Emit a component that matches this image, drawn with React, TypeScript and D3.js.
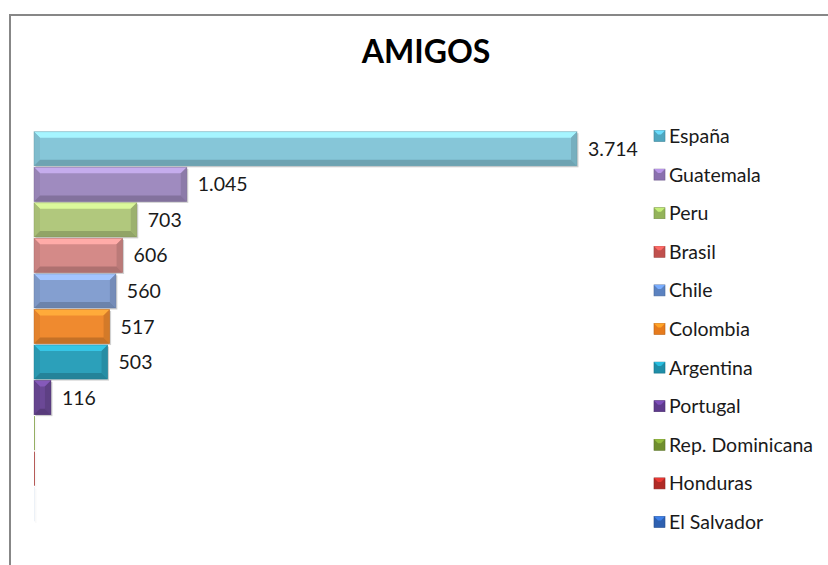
import React, { useEffect, useRef } from "react";
import * as d3 from "d3";

const countries = [
  "España",
  "Guatemala",
  "Peru",
  "Brasil",
  "Chile",
  "Colombia",
  "Argentina",
  "Portugal",
  "Rep. Dominicana",
  "Honduras",
  "El Salvador",
];
const values = [3714, 1045, 703, 606, 560, 517, 503, 116, 4, 3, 1];
const colors = [
  "#86c6d8",
  "#9f8bbf",
  "#b1c87d",
  "#d48a88",
  "#849fd0",
  "#ef8a2f",
  "#2ca0ba",
  "#6b4896",
  "#7b9a3c",
  "#a4332f",
  "#e8eef6",
];
const legendColors = [
  "#4fa6bf",
  "#8a70ae",
  "#93b35a",
  "#c0504d",
  "#5b82c0",
  "#e67b1d",
  "#1f8ea8",
  "#5e3a8c",
  "#6f8e2e",
  "#b02a26",
  "#2e60b0",
];
const title = "AMIGOS";

const fmt = (v: number) => d3.format(",")(v).replace(/,/g, ".");

const App = () => {
  const svgRef = useRef<SVGSVGElement>(null);

  useEffect(() => {
    const svg = d3.select(svgRef.current);
    svg.selectAll("*").remove();

    const w = 828;
    const h = 565;
    const font = "Lato, 'Open Sans', sans-serif";

    // chart frame (runs past the picture on right and bottom)
    svg
      .append("rect")
      .attr("x", 10)
      .attr("y", 15)
      .attr("width", w + 10)
      .attr("height", h + 10)
      .attr("fill", "#fff")
      .attr("stroke", "#878787")
      .attr("stroke-width", 2);

    svg
      .append("text")
      .attr("x", 426)
      .attr("y", 63)
      .attr("text-anchor", "middle")
      .attr("font-family", font)
      .attr("font-weight", "bold")
      .attr("font-size", 32)
      .attr("fill", "#000")
      .text(title);

    const data = countries.map((name, i) => ({ name, value: values[i], color: colors[i], legend: legendColors[i] }));

    const xScale = d3.scaleLinear().domain([0, 3714]).range([34, 577]);
    const yScale = d3
      .scaleBand()
      .domain(countries)
      .range([131, 522])
      .paddingInner(0.04)
      .paddingOuter(0.02);

    const bars = svg.append("g").attr("class", "bars");

    data.forEach((d) => {
      const x0 = xScale(0);
      const x1 = xScale(d.value);
      const y0 = yScale(d.name)!;
      const bh = yScale.bandwidth();
      const y1 = y0 + bh;
      const bw = x1 - x0;
      const b = Math.max(0, Math.min(6, bw / 2, bh / 2));
      const c = d3.color(d.color)!;
      const g = bars.append("g");

      // shadow
      g.append("rect")
        .attr("x", x0 + 1.5)
        .attr("y", y0 + 1.5)
        .attr("width", Math.max(bw, 0.8))
        .attr("height", bh)
        .attr("fill", "#000")
        .attr("opacity", d.value > 10 ? 0.18 : 0.05);

      g.append("rect")
        .attr("x", x0)
        .attr("y", y0)
        .attr("width", Math.max(bw, 0.8))
        .attr("height", bh)
        .attr("fill", d.color);

      const poly = (pts: number[][], fill: string) =>
        g.append("polygon").attr("points", pts.map((p) => p.join(",")).join(" ")).attr("fill", fill);

      if (b > 0.5) {
        poly([[x0, y0], [x1, y0], [x1 - b, y0 + b], [x0 + b, y0 + b]], c.brighter(0.6).formatHex());
        poly([[x0, y0], [x0 + b, y0 + b], [x0 + b, y1 - b], [x0, y1]], c.darker(0.15).formatHex());
        poly([[x1, y0], [x1, y1], [x1 - b, y1 - b], [x1 - b, y0 + b]], c.darker(0.35).formatHex());
        poly([[x0, y1], [x0 + b, y1 - b], [x1 - b, y1 - b], [x1, y1]], c.darker(0.55).formatHex());

        g.append("rect")
          .attr("x", x0)
          .attr("y", y0)
          .attr("width", bw)
          .attr("height", bh)
          .attr("fill", "none")
          .attr("stroke", c.darker(0.8).formatHex())
          .attr("stroke-opacity", 0.5)
          .attr("stroke-width", 0.8);
      }

      if (d.value > 10) {
        g.append("text")
          .attr("x", x1 + 11)
          .attr("y", y0 + bh / 2 + 7)
          .attr("font-family", font)
          .attr("font-size", 19.5)
          .attr("fill", "#1a1a1a")
          .text(fmt(d.value));
      }
    });

    // legend
    const ly = d3.scaleLinear().domain([0, countries.length - 1]).range([136, 522]);
    const legend = svg.append("g").attr("class", "legend");
    data.forEach((d, i) => {
      const cy = ly(i);
      const c = d3.color(d.legend)!;
      legend
        .append("rect")
        .attr("x", 654)
        .attr("y", cy - 5.5)
        .attr("width", 11)
        .attr("height", 11)
        .attr("fill", d.legend)
        .attr("stroke", c.darker(0.6).formatHex())
        .attr("stroke-width", 0.6);
      legend
        .append("polygon")
        .attr("points", `${654},${cy - 5.5} ${665},${cy - 5.5} ${661},${cy - 1.5} ${658},${cy - 1.5}`)
        .attr("fill", c.brighter(0.8).formatHex());
      legend
        .append("text")
        .attr("x", 669)
        .attr("y", cy + 7)
        .attr("font-family", font)
        .attr("font-size", 19.5)
        .attr("fill", "#1a1a1a")
        .text(d.name);
    });
  }, []);

  return (
    <svg
      ref={svgRef}
      width={828}
      height={565}
      style={{ position: "absolute", left: 0, top: 0, display: "block" }}
    />
  );
};

export default App;
